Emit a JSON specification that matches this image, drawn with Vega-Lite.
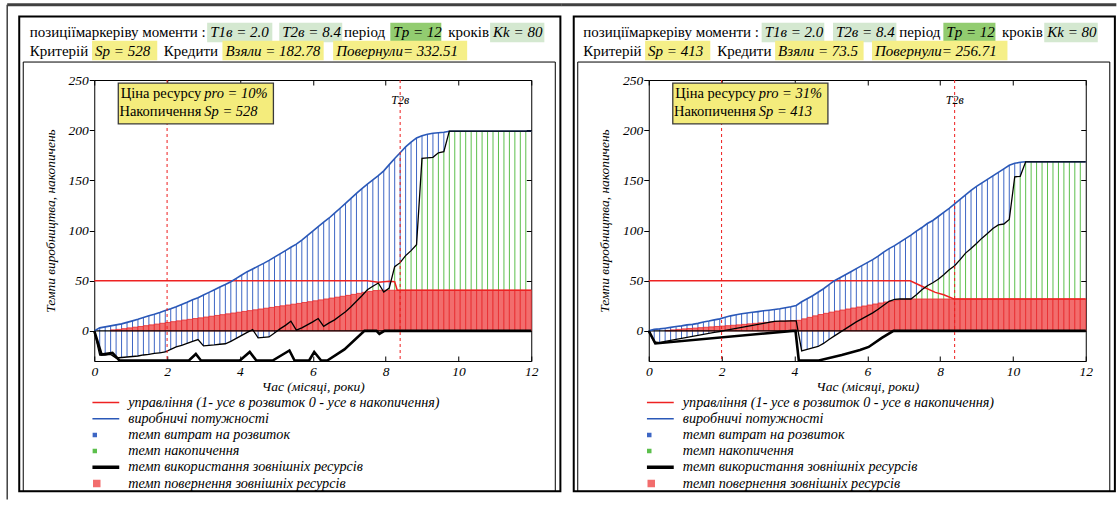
{
"$schema":"https://vega.github.io/schema/vega-lite/v6.json",
"background":"#ffffff",
"padding":{"left":5.25,"top":3,"right":0,"bottom":0},
"autosize":{"type":"pad"},
"datasets":{
"L":[{"t":0,"cap":0,"bnd":0,"ret":0},{"t":0.15,"cap":3,"bnd":-24,"ret":0},{"t":0.3,"cap":4,"bnd":-24,"ret":0},{"t":0.45,"cap":5,"bnd":-23.5,"ret":1},{"t":0.6,"cap":6,"bnd":-27,"ret":1.5},{"t":0.75,"cap":7,"bnd":-26.5,"ret":2.2},{"t":0.9,"cap":8.5,"bnd":-26,"ret":3},{"t":1.05,"cap":10,"bnd":-25.5,"ret":3.7},{"t":1.2,"cap":11.5,"bnd":-25,"ret":4.4},{"t":1.35,"cap":13.3,"bnd":-24,"ret":5.2},{"t":1.5,"cap":15,"bnd":-23.5,"ret":6},{"t":1.65,"cap":16.5,"bnd":-22.5,"ret":6.8},{"t":1.8,"cap":18.3,"bnd":-21.8,"ret":7.6},{"t":1.95,"cap":20.3,"bnd":-21,"ret":8.4},{"t":2.1,"cap":22,"bnd":-18.5,"ret":9.2},{"t":2.25,"cap":24,"bnd":-16,"ret":10},{"t":2.4,"cap":26.3,"bnd":-14.5,"ret":10.8},{"t":2.55,"cap":28.5,"bnd":-12.5,"ret":11.5},{"t":2.7,"cap":31,"bnd":-10.5,"ret":12.3},{"t":2.85,"cap":33,"bnd":-8.6,"ret":13},{"t":3,"cap":35.8,"bnd":-15,"ret":13.8},{"t":3.15,"cap":38.4,"bnd":-14.5,"ret":14.6},{"t":3.3,"cap":41,"bnd":-14,"ret":15.4},{"t":3.45,"cap":43.7,"bnd":-13.3,"ret":16.2},{"t":3.6,"cap":46.3,"bnd":-12.8,"ret":17},{"t":3.75,"cap":49,"bnd":-10.5,"ret":17.8},{"t":3.9,"cap":52.3,"bnd":-7.5,"ret":18.6},{"t":4.05,"cap":55.7,"bnd":-4.5,"ret":19.4},{"t":4.2,"cap":59,"bnd":-1.5,"ret":20.2},{"t":4.35,"cap":61.7,"bnd":1.3,"ret":21},{"t":4.5,"cap":64.5,"bnd":-7,"ret":21.8},{"t":4.65,"cap":67.3,"bnd":-6.5,"ret":22.6},{"t":4.8,"cap":70.3,"bnd":-6,"ret":23.4},{"t":4.95,"cap":73.5,"bnd":-2,"ret":24.2},{"t":5.1,"cap":76.8,"bnd":2,"ret":25},{"t":5.25,"cap":80,"bnd":5.5,"ret":25.8},{"t":5.4,"cap":83.3,"bnd":9.6,"ret":26.6},{"t":5.55,"cap":86.5,"bnd":0.7,"ret":27.4},{"t":5.7,"cap":90.5,"bnd":3,"ret":28.3},{"t":5.85,"cap":95,"bnd":6,"ret":29.1},{"t":6,"cap":99.5,"bnd":9,"ret":30},{"t":6.15,"cap":104,"bnd":12.3,"ret":30.9},{"t":6.3,"cap":108.3,"bnd":4.6,"ret":31.8},{"t":6.45,"cap":112.5,"bnd":8,"ret":32.7},{"t":6.6,"cap":117.3,"bnd":11,"ret":33.6},{"t":6.75,"cap":122.2,"bnd":15,"ret":34.5},{"t":6.9,"cap":127,"bnd":19,"ret":35.4},{"t":7.05,"cap":132,"bnd":24,"ret":36.4},{"t":7.2,"cap":137,"bnd":29.5,"ret":37.4},{"t":7.35,"cap":141.7,"bnd":35,"ret":38.4},{"t":7.5,"cap":146.3,"bnd":41,"ret":39.4},{"t":7.65,"cap":150.5,"bnd":44.5,"ret":40.2},{"t":7.8,"cap":154.8,"bnd":47.7,"ret":40.5},{"t":7.95,"cap":159.5,"bnd":38.7,"ret":40.5},{"t":8.1,"cap":165.7,"bnd":42.7,"ret":40.5},{"t":8.25,"cap":171.8,"bnd":64,"ret":40.5},{"t":8.4,"cap":177.5,"bnd":68,"ret":40.5},{"t":8.55,"cap":183.3,"bnd":75,"ret":40.5},{"t":8.7,"cap":188,"bnd":80,"ret":40.5},{"t":8.85,"cap":192.3,"bnd":85.8,"ret":40.5},{"t":9,"cap":194.5,"bnd":172,"ret":40.5},{"t":9.15,"cap":196,"bnd":172.5,"ret":40.5},{"t":9.3,"cap":197,"bnd":173,"ret":40.5},{"t":9.45,"cap":197.5,"bnd":177.5,"ret":40.5},{"t":9.6,"cap":198,"bnd":178.5,"ret":40.5},{"t":9.75,"cap":199,"bnd":199,"ret":40.5},{"t":9.9,"cap":199,"bnd":199,"ret":40.5},{"t":10.05,"cap":199,"bnd":199,"ret":40.5},{"t":10.2,"cap":199,"bnd":199,"ret":40.5},{"t":10.35,"cap":199,"bnd":199,"ret":40.5},{"t":10.5,"cap":199,"bnd":199,"ret":40.5},{"t":10.65,"cap":199,"bnd":199,"ret":40.5},{"t":10.8,"cap":199,"bnd":199,"ret":40.5},{"t":10.95,"cap":199,"bnd":199,"ret":40.5},{"t":11.1,"cap":199,"bnd":199,"ret":40.5},{"t":11.25,"cap":199,"bnd":199,"ret":40.5},{"t":11.4,"cap":199,"bnd":199,"ret":40.5},{"t":11.55,"cap":199,"bnd":199,"ret":40.5},{"t":11.7,"cap":199,"bnd":199,"ret":40.5},{"t":11.85,"cap":199,"bnd":199,"ret":40.5},{"t":12,"cap":199,"bnd":199,"ret":40.5}],
"R":[{"t":0,"cap":0,"bnd":0,"ret":0},{"t":0.15,"cap":1.5,"bnd":-11,"ret":0},{"t":0.3,"cap":2,"bnd":-11.8,"ret":0},{"t":0.45,"cap":2.7,"bnd":-10.5,"ret":0.5},{"t":0.6,"cap":3.5,"bnd":-9.5,"ret":1},{"t":0.75,"cap":4.3,"bnd":-8.5,"ret":1.5},{"t":0.9,"cap":5,"bnd":-7.5,"ret":2},{"t":1.05,"cap":6,"bnd":-6.5,"ret":2.4},{"t":1.2,"cap":6.5,"bnd":-5.5,"ret":2.8},{"t":1.35,"cap":7.5,"bnd":-4.5,"ret":3.2},{"t":1.5,"cap":8.8,"bnd":-3.5,"ret":3.6},{"t":1.65,"cap":9.8,"bnd":-2.5,"ret":4},{"t":1.8,"cap":11,"bnd":-1.5,"ret":4.4},{"t":1.95,"cap":12,"bnd":-0.6,"ret":4.8},{"t":2.1,"cap":13.5,"bnd":0.5,"ret":5.2},{"t":2.25,"cap":15,"bnd":1.5,"ret":5.6},{"t":2.4,"cap":16,"bnd":2.5,"ret":6},{"t":2.55,"cap":17,"bnd":3.5,"ret":6.5},{"t":2.7,"cap":17.8,"bnd":4.5,"ret":7},{"t":2.85,"cap":18.5,"bnd":5.5,"ret":7.5},{"t":3,"cap":19.2,"bnd":6.5,"ret":8},{"t":3.15,"cap":20,"bnd":7.5,"ret":8.5},{"t":3.3,"cap":20.6,"bnd":8.5,"ret":9},{"t":3.45,"cap":21.3,"bnd":9.5,"ret":9.5},{"t":3.6,"cap":22,"bnd":9.7,"ret":9.8},{"t":3.75,"cap":23,"bnd":9.8,"ret":10},{"t":3.9,"cap":24,"bnd":10,"ret":10.2},{"t":4.05,"cap":25.3,"bnd":10,"ret":10.5},{"t":4.2,"cap":29,"bnd":-20,"ret":12},{"t":4.35,"cap":32,"bnd":-18.5,"ret":13.5},{"t":4.5,"cap":35,"bnd":-17,"ret":15},{"t":4.65,"cap":38.5,"bnd":-15.5,"ret":16.3},{"t":4.8,"cap":42,"bnd":-12.5,"ret":17.5},{"t":4.95,"cap":46,"bnd":-8.5,"ret":18.7},{"t":5.1,"cap":50,"bnd":-5,"ret":19.8},{"t":5.25,"cap":53,"bnd":-1.5,"ret":20.8},{"t":5.4,"cap":56,"bnd":2,"ret":21.8},{"t":5.55,"cap":59,"bnd":5.5,"ret":22.8},{"t":5.7,"cap":62,"bnd":9,"ret":23.8},{"t":5.85,"cap":65,"bnd":12,"ret":24.8},{"t":6,"cap":68,"bnd":15,"ret":25.8},{"t":6.15,"cap":71,"bnd":18,"ret":26.8},{"t":6.3,"cap":74.5,"bnd":21.5,"ret":27.8},{"t":6.45,"cap":78.5,"bnd":25.5,"ret":28.8},{"t":6.6,"cap":82,"bnd":29.5,"ret":29.8},{"t":6.75,"cap":85,"bnd":31.5,"ret":30.7},{"t":6.9,"cap":88.5,"bnd":31.8,"ret":31.5},{"t":7.05,"cap":92,"bnd":31.8,"ret":31.8},{"t":7.2,"cap":95.5,"bnd":31.8,"ret":31.8},{"t":7.35,"cap":99.5,"bnd":36,"ret":31.8},{"t":7.5,"cap":103,"bnd":41,"ret":31.8},{"t":7.65,"cap":107,"bnd":45,"ret":31.8},{"t":7.8,"cap":110,"bnd":48,"ret":31.8},{"t":7.95,"cap":114,"bnd":51.5,"ret":31.8},{"t":8.1,"cap":118,"bnd":56,"ret":31.8},{"t":8.25,"cap":122,"bnd":61,"ret":31.8},{"t":8.4,"cap":126.5,"bnd":65,"ret":31.8},{"t":8.55,"cap":131,"bnd":71,"ret":31.8},{"t":8.7,"cap":135.5,"bnd":77.5,"ret":31.8},{"t":8.85,"cap":140,"bnd":82,"ret":31.8},{"t":9,"cap":144,"bnd":87,"ret":31.8},{"t":9.15,"cap":147.5,"bnd":92.4,"ret":31.8},{"t":9.3,"cap":151,"bnd":97,"ret":31.8},{"t":9.45,"cap":154.5,"bnd":102,"ret":31.8},{"t":9.6,"cap":158,"bnd":105.6,"ret":31.8},{"t":9.75,"cap":161.5,"bnd":106.5,"ret":31.8},{"t":9.9,"cap":165,"bnd":111,"ret":31.8},{"t":10.05,"cap":167,"bnd":153.6,"ret":31.8},{"t":10.2,"cap":168,"bnd":154,"ret":31.8},{"t":10.35,"cap":168.5,"bnd":168.5,"ret":31.8},{"t":10.5,"cap":168.5,"bnd":168.5,"ret":31.8},{"t":10.65,"cap":168.5,"bnd":168.5,"ret":31.8},{"t":10.8,"cap":168.5,"bnd":168.5,"ret":31.8},{"t":10.95,"cap":168.5,"bnd":168.5,"ret":31.8},{"t":11.1,"cap":168.5,"bnd":168.5,"ret":31.8},{"t":11.25,"cap":168.5,"bnd":168.5,"ret":31.8},{"t":11.4,"cap":168.5,"bnd":168.5,"ret":31.8},{"t":11.55,"cap":168.5,"bnd":168.5,"ret":31.8},{"t":11.7,"cap":168.5,"bnd":168.5,"ret":31.8},{"t":11.85,"cap":168.5,"bnd":168.5,"ret":31.8},{"t":12,"cap":168.5,"bnd":168.5,"ret":31.8}],
"Lext":[{"t":0,"v":0},{"t":0.2,"v":-23.5},{"t":0.5,"v":-22},{"t":0.69,"v":-29.5},{"t":2.6,"v":-29.5},{"t":2.79,"v":-23},{"t":2.93,"v":-29.5},{"t":4,"v":-29.5},{"t":4.27,"v":-21},{"t":4.45,"v":-29.5},{"t":4.9,"v":-29.5},{"t":5.36,"v":-19.5},{"t":5.5,"v":-29.5},{"t":5.9,"v":-29.5},{"t":6.04,"v":-21},{"t":6.23,"v":-29.5},{"t":6.4,"v":-29.5},{"t":6.87,"v":-18.5},{"t":7.42,"v":0},{"t":7.75,"v":0},{"t":7.83,"v":-3},{"t":7.97,"v":0},{"t":12,"v":0}],
"Rext":[{"t":0,"v":0},{"t":0.18,"v":-12.5},{"t":3.95,"v":0},{"t":4.03,"v":0},{"t":4.12,"v":-29.5},{"t":4.67,"v":-29.5},{"t":5.3,"v":-24},{"t":5.8,"v":-19},{"t":6.04,"v":-16},{"t":6.4,"v":-7},{"t":6.72,"v":0},{"t":12,"v":0}],
"Lctl":[{"t":0,"v":50},{"t":7.5,"v":50},{"t":7.8,"v":48.5},{"t":8.1,"v":49.5},{"t":8.25,"v":49},{"t":8.32,"v":40.5},{"t":12,"v":40.5}],
"Rctl":[{"t":0,"v":50},{"t":7.18,"v":50},{"t":7.5,"v":44.5},{"t":7.87,"v":38.4},{"t":8.1,"v":36},{"t":8.38,"v":31.8},{"t":12,"v":31.8}],
"marks":[{"name":"T1в","t":2.0},{"name":"T2в","t":8.4}],
"Lhdr":[{"kind":"label","text":"позиціїмаркеріву моменти :","x":-1.77,"y":297.4},{"kind":"param","text":"T1в = 2.0","x":3.1,"x2":4.89,"y":297.4},{"kind":"param","text":"T2в = 8.4","x":5.08,"x2":6.81,"y":297.4},{"kind":"label","text":"період","x":6.86,"y":297.4},{"kind":"period","text":"Tp = 12","x":8.13,"x2":9.53,"y":297.4},{"kind":"label","text":"кроків","x":9.72,"y":297.4},{"kind":"param","text":"Kk = 80","x":10.87,"x2":12.36,"y":297.4},{"kind":"label","text":"Критерій","x":-1.77,"y":279.3},{"kind":"result","text":"Sp = 528","x":-0.06,"x2":1.73,"y":279.3},{"kind":"label","text":"Кредити","x":1.91,"y":279.3},{"kind":"result","text":"Взяли = 182.78","x":3.52,"x2":6.3,"y":279.3},{"kind":"result","text":"Повернули= 332.51","x":6.56,"x2":10.24,"y":279.3}],
"Rhdr":[{"kind":"label","text":"позиціїмаркеріву моменти :","x":-1.8,"y":297.4},{"kind":"param","text":"T1в = 2.0","x":3.1,"x2":4.82,"y":297.4},{"kind":"param","text":"T2в = 8.4","x":5.06,"x2":6.8,"y":297.4},{"kind":"label","text":"період","x":6.88,"y":297.4},{"kind":"period","text":"Tp = 12","x":8.09,"x2":9.52,"y":297.4},{"kind":"label","text":"кроків","x":9.7,"y":297.4},{"kind":"param","text":"Kk = 80","x":10.86,"x2":12.33,"y":297.4},{"kind":"label","text":"Критерій","x":-1.8,"y":279.3},{"kind":"result","text":"Sp = 413","x":-0.1,"x2":1.69,"y":279.3},{"kind":"label","text":"Кредити","x":1.88,"y":279.3},{"kind":"result","text":"Взяли = 73.5","x":3.47,"x2":5.9,"y":279.3},{"kind":"result","text":"Повернули= 256.71","x":6.13,"x2":9.85,"y":279.3}],
"Lnote":[{"kind":"label","text":"Ціна ресурсу","y":236.4},{"kind":"value","text":"pro = 10%","y":236.4},{"kind":"label","text":"Накопичення","y":217.8},{"kind":"value","text":"Sp = 528","y":217.8}],
"Rnote":[{"kind":"label","text":"Ціна ресурсу","y":236.4},{"kind":"value","text":"pro = 31%","y":236.4},{"kind":"label","text":"Накопичення","y":217.8},{"kind":"value","text":"Sp = 413","y":217.8}]
},
"hconcat":[
{
"width":437,"height":281,
"resolve":{"axis":{"x":"independent","y":"independent"}},
"layer":[
{"data":{"values":[{}]},"mark":{"type":"rule","stroke":"#404040","strokeWidth":3},"encoding":{"x":{"datum":-2.39,"axis":null},"x2":{"datum":12.84},"y":{"datum":325.1,"axis":null}}},
{"data":{"values":[{}]},"mark":{"type":"rule","stroke":"#404040","strokeWidth":1.5},"encoding":{"x":{"datum":-2.39,"axis":null},"y":{"datum":325.1,"axis":null},"y2":{"datum":-168}}},
{"data":{"values":[{}]},"mark":{"type":"rect","fillOpacity":0,"stroke":"#000000","strokeWidth":2},"encoding":{"x":{"datum":-2.06,"axis":null},"x2":{"datum":12.8},"y":{"datum":313.2,"axis":null},"y2":{"datum":-159.9}}},
{"data":{"values":[{}]},"mark":{"type":"rect","fillOpacity":0,"stroke":"#000000","strokeWidth":1},"encoding":{"x":{"datum":-1.95,"axis":null},"x2":{"datum":12.66},"y":{"datum":267.9,"axis":null},"y2":{"datum":-159.9}}},
{"data":{"name":"Lhdr"},"transform":[{"filter":"datum.kind !== 'label'"}],"mark":{"type":"bar","height":19.5},"encoding":{"x":{"field":"x","type":"quantitative","axis":null},"x2":{"field":"x2"},"y":{"field":"y","type":"quantitative","axis":null},"fill":{"condition":[{"test":"datum.kind === 'period'","value":"#92cc70"},{"test":"datum.kind === 'result'","value":"#f5ef88"}],"value":"#d4e8d0"}}},
{"data":{"name":"Lhdr"},"transform":[{"filter":"datum.kind === 'label'"}],"mark":{"type":"text","align":"left","baseline":"middle","font":"Liberation Serif, serif","fontSize":15,"color":"#000000"},"encoding":{"x":{"field":"x","type":"quantitative","axis":null},"y":{"field":"y","type":"quantitative","axis":null},"text":{"field":"text"}}},
{"data":{"name":"Lhdr"},"transform":[{"filter":"datum.kind !== 'label'"}],"mark":{"type":"text","align":"left","baseline":"middle","font":"Liberation Serif, serif","fontStyle":"italic","fontSize":15,"dx":3,"color":"#000000"},"encoding":{"x":{"field":"x","type":"quantitative","axis":null},"y":{"field":"y","type":"quantitative","axis":null},"text":{"field":"text"}}},
{"data":{"name":"L"},"transform":[{"filter":"datum.t > 0"}],"mark":{"type":"rule","strokeWidth":1},"encoding":{
 "x":{"field":"t","type":"quantitative","scale":{"domain":[0,12],"nice":false,"zero":false,"padding":0},"axis":{"orient":"bottom","values":[0,2,4,6,8,10,12],"title":"Час (місяці, роки)","titleFontSize":13.5,"tickSize":-5,"labelPadding":8,"titlePadding":2}},
 "y":{"field":"bnd","type":"quantitative","scale":{"domain":[-30,250],"nice":false,"zero":false,"padding":0},"axis":{"orient":"left","values":[0,50,100,150,200,250],"title":"Темпи виробництва, накопичень","titleFontSize":13.4,"tickSize":5,"labelPadding":1,"titlePadding":11}},
 "y2":{"field":"cap"},
 "color":{"datum":"темп витрат на розвиток","type":"nominal","scale":{"domain":["управління (1- усе в розвиток 0 - усе в накопичення)","виробничі потужності","темп витрат на розвиток","темп накопичення","темп використання зовнішніх ресурсів","темп повернення зовнішніх ресурсів"],"range":["#ee2222","#2a58b8","#3d66c4","#5cbf4c","#000000","#f26d6d"]},
  "legend":{"orient":"none","legendX":-2,"legendY":316,"direction":"vertical","title":null,"padding":0,"symbolSize":100,"clipHeight":13,"rowPadding":1.2,"labelOffset":36,"labelFont":"Liberation Serif, serif","labelFontStyle":"italic","labelFontSize":14.2,"labelColor":"#000000","labelLimit":600,
   "encode":{"labels":{"update":{"x":{"value":36}}},"symbols":{"update":{
    "shape":{"signal":"datum.value === 'темп витрат на розвиток' || datum.value === 'темп накопичення' || datum.value === 'темп повернення зовнішніх ресурсів' ? 'square' : 'stroke'"},
    "size":{"signal":"datum.value === 'темп витрат на розвиток' || datum.value === 'темп накопичення' ? 9 : (datum.value === 'темп повернення зовнішніх ресурсів' ? 36 : 729)"},
    "strokeWidth":{"signal":"datum.value === 'темп використання зовнішніх ресурсів' ? 3.5 : 1.5"},
    "fill":{"signal":"datum.value === 'темп витрат на розвиток' ? '#3d66c4' : (datum.value === 'темп накопичення' ? '#5cbf4c' : (datum.value === 'темп повернення зовнішніх ресурсів' ? '#f26d6d' : 'transparent'))"},
    "stroke":{"signal":"datum.value === 'управління (1- усе в розвиток 0 - усе в накопичення)' ? '#ee2222' : (datum.value === 'виробничі потужності' ? '#2a58b8' : (datum.value === 'темп використання зовнішніх ресурсів' ? '#000000' : (datum.value === 'темп повернення зовнішніх ресурсів' ? '#e8282c' : 'transparent')))"},
    "opacity":{"value":1},
    "x":{"signal":"datum.value === 'темп витрат на розвиток' || datum.value === 'темп накопичення' ? 2.5 : (datum.value === 'темп повернення зовнішніх ресурсів' ? 4.5 : 13.5)"}
   }}}}}
}},
{"data":{"name":"L"},"transform":[{"filter":"datum.bnd > datum.ret + 0.5 && datum.t < 11.9"}],"mark":{"type":"rule","strokeWidth":1},"encoding":{
 "x":{"field":"t","type":"quantitative","axis":{"orient":"top","values":[0,2,4,6,8,10,12],"labels":false,"title":null,"tickSize":-5}},
 "y":{"field":"ret","type":"quantitative","axis":{"orient":"right","values":[0,50,100,150,200,250],"labels":false,"title":null,"tickSize":-5}},
 "y2":{"field":"bnd"},
 "color":{"datum":"темп накопичення","type":"nominal"}}},
{"data":{"name":"L"},"transform":[{"filter":"datum.ret > 0 && datum.t < 11.9"}],"mark":{"type":"bar","width":5.46,"xOffset":2.73,"stroke":"#e8282c","strokeWidth":0.8},"encoding":{"x":{"field":"t","type":"quantitative","axis":null},"y":{"field":"ret","type":"quantitative","axis":null},"y2":{"datum":0},"color":{"datum":"темп повернення зовнішніх ресурсів","type":"nominal"}}},
{"data":{"values":[{}]},"mark":{"type":"rule","stroke":"#000000","strokeWidth":1.2},"encoding":{"y":{"datum":0,"axis":null}}},
{"data":{"name":"Lctl"},"mark":{"type":"line","strokeWidth":1.5},"encoding":{"x":{"field":"t","type":"quantitative","axis":null},"y":{"field":"v","type":"quantitative","axis":null},"color":{"datum":"управління (1- усе в розвиток 0 - усе в накопичення)","type":"nominal"}}},
{"data":{"name":"L"},"mark":{"type":"line","strokeWidth":1.6},"encoding":{"x":{"field":"t","type":"quantitative","axis":null},"y":{"field":"cap","type":"quantitative","axis":null},"color":{"datum":"виробничі потужності","type":"nominal"}}},
{"data":{"name":"L"},"mark":{"type":"line","strokeWidth":1.3,"color":"#000000"},"encoding":{"x":{"field":"t","type":"quantitative","axis":null},"y":{"field":"bnd","type":"quantitative","axis":null}}},
{"data":{"name":"Lext"},"mark":{"type":"line","strokeWidth":2.6},"encoding":{"x":{"field":"t","type":"quantitative","axis":null},"y":{"field":"v","type":"quantitative","axis":null},"color":{"datum":"темп використання зовнішніх ресурсів","type":"nominal"}}},
{"data":{"name":"marks"},"mark":{"type":"rule","stroke":"#ee1c1c","strokeWidth":1,"strokeDash":[3,3]},"encoding":{"x":{"field":"t","type":"quantitative","axis":null}}},
{"data":{"name":"marks"},"transform":[{"filter":"datum.name === 'T2в'"}],"mark":{"type":"text","font":"Liberation Serif, serif","fontStyle":"italic","fontSize":12,"color":"#000000"},"encoding":{"x":{"field":"t","type":"quantitative","axis":null},"y":{"datum":230,"axis":null},"text":{"field":"name"}}},
{"data":{"values":[{}]},"mark":{"type":"rect","fill":"#f4ec7c","stroke":"#3a3a3a","strokeWidth":1.3},"encoding":{"x":{"datum":0.66,"axis":null},"x2":{"datum":4.92},"y":{"datum":246.9,"axis":null},"y2":{"datum":206.2}}},
{"data":{"name":"Lnote"},"transform":[{"filter":"datum.kind === 'label'"}],"mark":{"type":"text","align":"right","baseline":"middle","font":"Liberation Serif, serif","fontSize":14.5,"color":"#000000"},"encoding":{"x":{"datum":2.94,"axis":null},"y":{"field":"y","type":"quantitative","axis":null},"text":{"field":"text"}}},
{"data":{"name":"Lnote"},"transform":[{"filter":"datum.kind === 'value'"}],"mark":{"type":"text","align":"left","baseline":"middle","font":"Liberation Serif, serif","fontStyle":"italic","fontSize":14.5,"dx":3,"color":"#000000"},"encoding":{"x":{"datum":2.94,"axis":null},"y":{"field":"y","type":"quantitative","axis":null},"text":{"field":"text"}}}
]
},
{
"width":437,"height":281,
"resolve":{"axis":{"x":"independent","y":"independent"}},
"layer":[
{"data":{"values":[{}]},"mark":{"type":"rule","stroke":"#404040","strokeWidth":3},"encoding":{"x":{"datum":-2.39,"axis":null},"x2":{"datum":12.84},"y":{"datum":325.1,"axis":null}}},
{"data":{"values":[{}]},"mark":{"type":"rect","fillOpacity":0,"stroke":"#000000","strokeWidth":2},"encoding":{"x":{"datum":-2.06,"axis":null},"x2":{"datum":12.8},"y":{"datum":313.2,"axis":null},"y2":{"datum":-159.9}}},
{"data":{"values":[{}]},"mark":{"type":"rect","fillOpacity":0,"stroke":"#000000","strokeWidth":1},"encoding":{"x":{"datum":-1.95,"axis":null},"x2":{"datum":12.66},"y":{"datum":267.9,"axis":null},"y2":{"datum":-159.9}}},
{"data":{"name":"Rhdr"},"transform":[{"filter":"datum.kind !== 'label'"}],"mark":{"type":"bar","height":19.5},"encoding":{"x":{"field":"x","type":"quantitative","axis":null},"x2":{"field":"x2"},"y":{"field":"y","type":"quantitative","axis":null},"fill":{"condition":[{"test":"datum.kind === 'period'","value":"#92cc70"},{"test":"datum.kind === 'result'","value":"#f5ef88"}],"value":"#d4e8d0"}}},
{"data":{"name":"Rhdr"},"transform":[{"filter":"datum.kind === 'label'"}],"mark":{"type":"text","align":"left","baseline":"middle","font":"Liberation Serif, serif","fontSize":15,"color":"#000000"},"encoding":{"x":{"field":"x","type":"quantitative","axis":null},"y":{"field":"y","type":"quantitative","axis":null},"text":{"field":"text"}}},
{"data":{"name":"Rhdr"},"transform":[{"filter":"datum.kind !== 'label'"}],"mark":{"type":"text","align":"left","baseline":"middle","font":"Liberation Serif, serif","fontStyle":"italic","fontSize":15,"dx":3,"color":"#000000"},"encoding":{"x":{"field":"x","type":"quantitative","axis":null},"y":{"field":"y","type":"quantitative","axis":null},"text":{"field":"text"}}},
{"data":{"name":"R"},"transform":[{"filter":"datum.t > 0"}],"mark":{"type":"rule","strokeWidth":1},"encoding":{
 "x":{"field":"t","type":"quantitative","scale":{"domain":[0,12],"nice":false,"zero":false,"padding":0},"axis":{"orient":"bottom","values":[0,2,4,6,8,10,12],"title":"Час (місяці, роки)","titleFontSize":13.5,"tickSize":-5,"labelPadding":8,"titlePadding":2}},
 "y":{"field":"bnd","type":"quantitative","scale":{"domain":[-30,250],"nice":false,"zero":false,"padding":0},"axis":{"orient":"left","values":[0,50,100,150,200,250],"title":"Темпи виробництва, накопичень","titleFontSize":13.4,"tickSize":5,"labelPadding":1,"titlePadding":11}},
 "y2":{"field":"cap"},
 "color":{"datum":"темп витрат на розвиток","type":"nominal","scale":{"domain":["управління (1- усе в розвиток 0 - усе в накопичення)","виробничі потужності","темп витрат на розвиток","темп накопичення","темп використання зовнішніх ресурсів","темп повернення зовнішніх ресурсів"],"range":["#ee2222","#2a58b8","#3d66c4","#5cbf4c","#000000","#f26d6d"]},
  "legend":{"orient":"none","legendX":-2,"legendY":316,"direction":"vertical","title":null,"padding":0,"symbolSize":100,"clipHeight":13,"rowPadding":1.2,"labelOffset":36,"labelFont":"Liberation Serif, serif","labelFontStyle":"italic","labelFontSize":14.2,"labelColor":"#000000","labelLimit":600,
   "encode":{"labels":{"update":{"x":{"value":36}}},"symbols":{"update":{
    "shape":{"signal":"datum.value === 'темп витрат на розвиток' || datum.value === 'темп накопичення' || datum.value === 'темп повернення зовнішніх ресурсів' ? 'square' : 'stroke'"},
    "size":{"signal":"datum.value === 'темп витрат на розвиток' || datum.value === 'темп накопичення' ? 9 : (datum.value === 'темп повернення зовнішніх ресурсів' ? 36 : 729)"},
    "strokeWidth":{"signal":"datum.value === 'темп використання зовнішніх ресурсів' ? 3.5 : 1.5"},
    "fill":{"signal":"datum.value === 'темп витрат на розвиток' ? '#3d66c4' : (datum.value === 'темп накопичення' ? '#5cbf4c' : (datum.value === 'темп повернення зовнішніх ресурсів' ? '#f26d6d' : 'transparent'))"},
    "stroke":{"signal":"datum.value === 'управління (1- усе в розвиток 0 - усе в накопичення)' ? '#ee2222' : (datum.value === 'виробничі потужності' ? '#2a58b8' : (datum.value === 'темп використання зовнішніх ресурсів' ? '#000000' : (datum.value === 'темп повернення зовнішніх ресурсів' ? '#e8282c' : 'transparent')))"},
    "opacity":{"value":1},
    "x":{"signal":"datum.value === 'темп витрат на розвиток' || datum.value === 'темп накопичення' ? 2.5 : (datum.value === 'темп повернення зовнішніх ресурсів' ? 4.5 : 13.5)"}
   }}}}}
}},
{"data":{"name":"R"},"transform":[{"filter":"datum.bnd > datum.ret + 1 && datum.t < 11.9"}],"mark":{"type":"rule","strokeWidth":1},"encoding":{
 "x":{"field":"t","type":"quantitative","axis":{"orient":"top","values":[0,2,4,6,8,10,12],"labels":false,"title":null,"tickSize":-5}},
 "y":{"field":"ret","type":"quantitative","axis":{"orient":"right","values":[0,50,100,150,200,250],"labels":false,"title":null,"tickSize":-5}},
 "y2":{"field":"bnd"},
 "color":{"datum":"темп накопичення","type":"nominal"}}},
{"data":{"name":"R"},"transform":[{"filter":"datum.ret > 0 && datum.t < 11.9"}],"mark":{"type":"bar","width":5.46,"xOffset":2.73,"stroke":"#e8282c","strokeWidth":0.8},"encoding":{"x":{"field":"t","type":"quantitative","axis":null},"y":{"field":"ret","type":"quantitative","axis":null},"y2":{"datum":0},"color":{"datum":"темп повернення зовнішніх ресурсів","type":"nominal"}}},
{"data":{"values":[{}]},"mark":{"type":"rule","stroke":"#000000","strokeWidth":1.2},"encoding":{"y":{"datum":0,"axis":null}}},
{"data":{"name":"Rctl"},"mark":{"type":"line","strokeWidth":1.5},"encoding":{"x":{"field":"t","type":"quantitative","axis":null},"y":{"field":"v","type":"quantitative","axis":null},"color":{"datum":"управління (1- усе в розвиток 0 - усе в накопичення)","type":"nominal"}}},
{"data":{"name":"R"},"mark":{"type":"line","strokeWidth":1.6},"encoding":{"x":{"field":"t","type":"quantitative","axis":null},"y":{"field":"cap","type":"quantitative","axis":null},"color":{"datum":"виробничі потужності","type":"nominal"}}},
{"data":{"name":"R"},"mark":{"type":"line","strokeWidth":1.3,"color":"#000000"},"encoding":{"x":{"field":"t","type":"quantitative","axis":null},"y":{"field":"bnd","type":"quantitative","axis":null}}},
{"data":{"name":"Rext"},"mark":{"type":"line","strokeWidth":2.6},"encoding":{"x":{"field":"t","type":"quantitative","axis":null},"y":{"field":"v","type":"quantitative","axis":null},"color":{"datum":"темп використання зовнішніх ресурсів","type":"nominal"}}},
{"data":{"name":"marks"},"mark":{"type":"rule","stroke":"#ee1c1c","strokeWidth":1,"strokeDash":[3,3]},"encoding":{"x":{"field":"t","type":"quantitative","axis":null}}},
{"data":{"name":"marks"},"transform":[{"filter":"datum.name === 'T2в'"}],"mark":{"type":"text","font":"Liberation Serif, serif","fontStyle":"italic","fontSize":12,"color":"#000000"},"encoding":{"x":{"field":"t","type":"quantitative","axis":null},"y":{"datum":230,"axis":null},"text":{"field":"name"}}},
{"data":{"values":[{}]},"mark":{"type":"rect","fill":"#f4ec7c","stroke":"#3a3a3a","strokeWidth":1.3},"encoding":{"x":{"datum":0.66,"axis":null},"x2":{"datum":4.92},"y":{"datum":246.9,"axis":null},"y2":{"datum":206.2}}},
{"data":{"name":"Rnote"},"transform":[{"filter":"datum.kind === 'label'"}],"mark":{"type":"text","align":"right","baseline":"middle","font":"Liberation Serif, serif","fontSize":14.5,"color":"#000000"},"encoding":{"x":{"datum":2.94,"axis":null},"y":{"field":"y","type":"quantitative","axis":null},"text":{"field":"text"}}},
{"data":{"name":"Rnote"},"transform":[{"filter":"datum.kind === 'value'"}],"mark":{"type":"text","align":"left","baseline":"middle","font":"Liberation Serif, serif","fontStyle":"italic","fontSize":14.5,"dx":3,"color":"#000000"},"encoding":{"x":{"datum":2.94,"axis":null},"y":{"field":"y","type":"quantitative","axis":null},"text":{"field":"text"}}}
]
}
],
"spacing":117.5,
"bounds":"flush",
"resolve":{"scale":{"x":"independent","y":"independent","color":"independent"},"axis":{"x":"independent","y":"independent"},"legend":{"color":"independent"}},
"config":{
"view":{"stroke":null},
"font":"Liberation Serif, serif",
"axis":{"grid":false,"zindex":1,"domainColor":"#000000","tickColor":"#000000","labelColor":"#000000","titleColor":"#000000","labelFont":"Liberation Serif, serif","titleFont":"Liberation Serif, serif","labelFontStyle":"italic","titleFontStyle":"italic","titleFontWeight":"normal","labelFontSize":13.5,"domainWidth":1,"tickWidth":1,"labelFlush":false}
}
}
